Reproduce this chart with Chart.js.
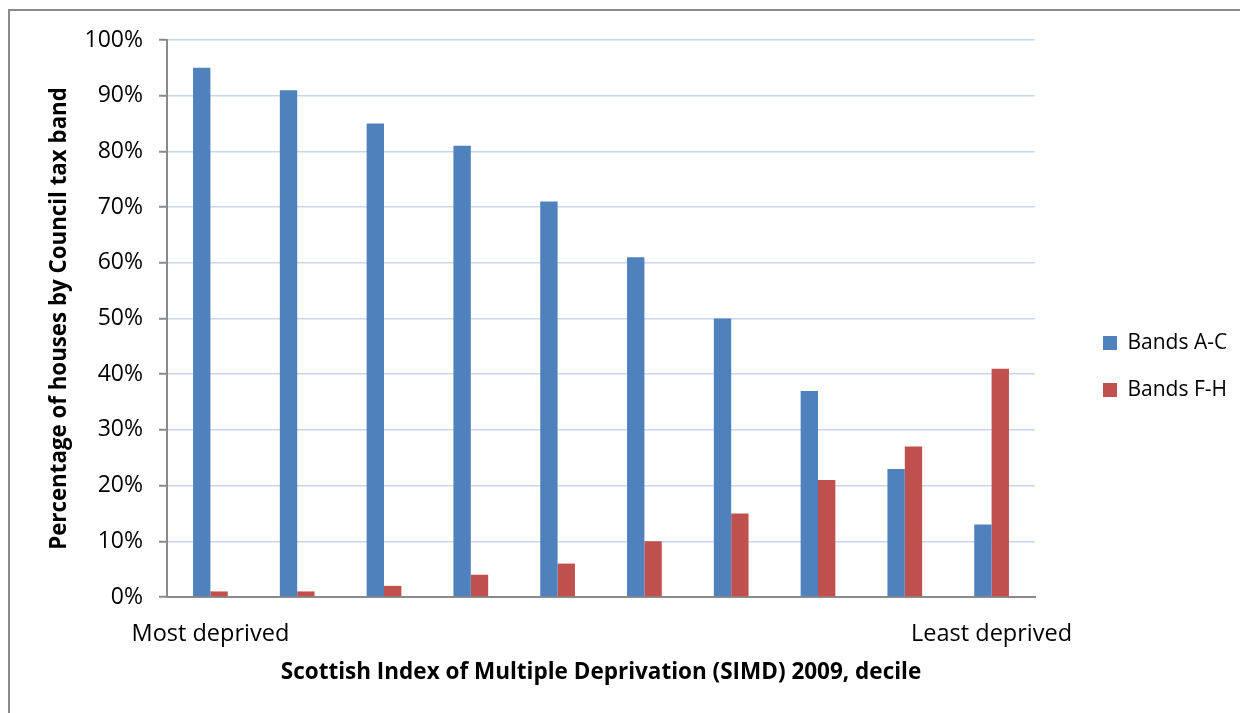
<!DOCTYPE html>
<html><head><meta charset="utf-8">
<script src="https://cdn.jsdelivr.net/npm/chart.js@4.4.0/dist/chart.umd.min.js"></script>
<style>html,body{margin:0;padding:0;background:#fff;}#wrap{width:1240px;height:713px;}</style>
</head><body><div id="wrap"><canvas id="c" width="1240" height="713"></canvas></div>
<script>
// ---- data ----
const categories = ['1', '2', '3', '4', '5', '6', '7', '8', '9', '10'];
const tickLabels = ['Most deprived', '', '', '', '', '', '', '', '', 'Least deprived'];
const bandsAC = [95, 91, 85, 81, 71, 61, 50, 37, 23, 13];
const bandsFH = [1, 1, 2, 4, 6, 10, 15, 21, 27, 41];
const seriesNames = ['Bands A-C', 'Bands F-H'];
const yAxisTitle = 'Percentage of houses by Council tax band';
const xAxisTitle = 'Scottish Index of Multiple Deprivation (SIMD) 2009, decile';

const FONT = "'Open Sans', 'Noto Sans', sans-serif";

const borderPlugin = {
  id: 'outerBorder',
  beforeDraw(chart) {
    const ctx = chart.ctx;
    ctx.save();
    ctx.fillStyle = '#fff';
    ctx.fillRect(0, 0, chart.width, chart.height);
    ctx.strokeStyle = '#8a8a8a';
    ctx.lineWidth = 2;
    ctx.strokeRect(9, 10, chart.width + 20, chart.height + 20);
    ctx.restore();
  }
};

const legendPlace = {
  id: 'legendPlace',
  afterLayout(chart) {
    const lg = chart.legend;
    const pad = lg.options.labels.padding;
    const w = lg.width, h = lg.height;
    lg.left = 1103 - pad; lg.right = lg.left + w;
    lg.top = lg.top + 88; lg.bottom = lg.top + h;
  }
};

new Chart(document.getElementById('c'), {
  type: 'bar',
  data: {
    labels: categories,
    datasets: [
      { label: seriesNames[0], data: bandsAC, backgroundColor: '#4F81BD', borderWidth: 0 },
      { label: seriesNames[1], data: bandsFH, backgroundColor: '#C0504D', borderWidth: 0 }
    ]
  },
  options: {
    responsive: false,
    devicePixelRatio: 1,
    animation: false,
    categoryPercentage: 0.4,
    barPercentage: 1.0,
    layout: { padding: { left: 0, top: 40, right: 205, bottom: 0 } },
    plugins: {
      title: { display: false },
      tooltip: { enabled: false },
      legend: {
        position: 'chartArea',
        align: 'center',
        labels: {
          boxWidth: 14, boxHeight: 14, padding: 26, color: '#000',
          font: { family: FONT, size: 21 }
        }
      }
    },
    scales: {
      x: {
        offset: true,
        grid: { display: false, drawTicks: false },
        border: { display: true, color: '#8a8a8a', width: 2 },
        ticks: {
          autoSkip: false, maxRotation: 0, minRotation: 0, padding: 23, color: '#000',
          font: { family: FONT, size: 23.5 },
          callback: (v, i) => tickLabels[i]
        },
        title: {
          display: true, text: xAxisTitle, color: '#000',
          font: { family: FONT, size: 22.5, weight: 'bold' },
          padding: { top: 0, bottom: 27 }
        },
        afterFit(s) { s.height = 116; }
      },
      y: {
        min: 0, max: 100,
        grid: { color: '#C9D7EE', lineWidth: 1.5, drawTicks: true, tickLength: 8, tickColor: '#8a8a8a', tickWidth: 2 },
        border: { display: true, color: '#8a8a8a', width: 2 },
        ticks: {
          stepSize: 10, padding: 16, color: '#000',
          font: { family: FONT, size: 23 },
          callback: (v) => v + '%'
        },
        title: {
          display: true, text: yAxisTitle, color: '#000',
          font: { family: FONT, size: 22.3, weight: 'bold' },
          padding: { top: 46, bottom: 0 }
        },
        afterFit(s) { s.width = 167; }
      }
    }
  },
  plugins: [borderPlugin, legendPlace]
});
</script>
</body></html>
